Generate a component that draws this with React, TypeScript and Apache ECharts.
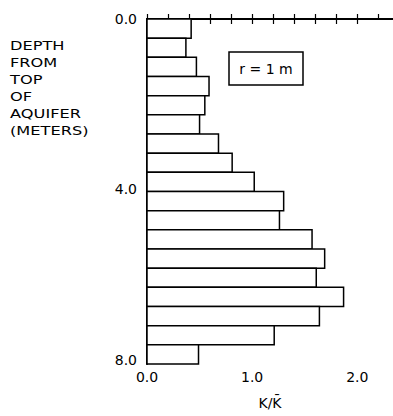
import React, { useEffect, useRef } from "react";
import * as echarts from "echarts";

// Depth intervals (m, top of aquifer = 0) and K/K̄ for each layer
const depthTop = [0, 0.45, 0.9, 1.35, 1.8, 2.25, 2.7, 3.15, 3.6, 4.05, 4.5, 4.95, 5.4, 5.85, 6.3, 6.75, 7.2, 7.65];
const depthBottom = [0.45, 0.9, 1.35, 1.8, 2.25, 2.7, 3.15, 3.6, 4.05, 4.5, 4.95, 5.4, 5.85, 6.3, 6.75, 7.2, 7.65, 8.1];
const kRatio = [0.42, 0.37, 0.47, 0.59, 0.55, 0.5, 0.68, 0.81, 1.02, 1.3, 1.26, 1.57, 1.69, 1.61, 1.87, 1.64, 1.21, 0.49];

const xTickValues = [0, 0.2, 0.4, 0.6, 0.8, 1.0, 1.2, 1.4, 1.6, 1.8, 2.0];
const yTicks = [0, 4, 8];

const yLabelLines = ["DEPTH", "FROM", "TOP", "OF", "AQUIFER", "(METERS)"];
const boxLabel = "r = 1 m";
const xName = "K/K\u0304";

const FONT = "DejaVu Sans";

export default function App() {
  const ref = useRef<HTMLDivElement>(null);
  useEffect(() => {
    if (!ref.current) return;
    const chart = echarts.init(ref.current, null, { renderer: "svg" });
    const data = depthTop.map((t, i) => [t, depthBottom[i], kRatio[i]]);
    const axisLine = { show: true, lineStyle: { color: "#000", width: 2 } };
    const tickStyle = { color: "#000", width: 1.2 };
    chart.setOption({
      animation: false,
      backgroundColor: "#fff",
      grid: { left: 147, top: 19, width: 246, height: 345, containLabel: false },
      xAxis: [
        {
          type: "value",
          min: 0,
          max: 2.34,
          interval: 0.2,
          position: "bottom",
          splitLine: { show: false },
          axisLine,
          axisTick: { show: true, inside: true, length: 5, lineStyle: tickStyle },
          axisLabel: {
            color: "#000",
            fontFamily: FONT,
            fontSize: 14,
            margin: 6,
            showMaxLabel: false,
            formatter: (v: number) => (Math.abs(v - Math.round(v)) < 1e-6 ? v.toFixed(1) : ""),
          },
          name: xName,
          nameLocation: "middle",
          nameGap: 32,
          nameTextStyle: { color: "#000", fontFamily: FONT, fontSize: 14 },
        },
        {
          type: "value",
          min: 0,
          max: 2.34,
          position: "top",
          splitLine: { show: false },
          axisLine,
          axisTick: { show: true, inside: true, length: 5, customValues: xTickValues, lineStyle: tickStyle },
          axisLabel: { show: false },
        },
      ],
      yAxis: {
        type: "value",
        inverse: true,
        min: 0,
        max: 8.1,
        axisLine,
        axisTick: { show: true, inside: true, length: 7, customValues: yTicks, lineStyle: tickStyle },
        splitLine: { show: false },
        axisLabel: {
          color: "#000",
          fontFamily: FONT,
          fontSize: 14,
          margin: 10,
          customValues: yTicks,
          formatter: (v: number) => v.toFixed(1),
        },
      },
      series: [
        {
          type: "custom",
          xAxisIndex: 0,
          yAxisIndex: 0,
          data,
          renderItem: (params: any, api: any) => {
            const top = api.value(0);
            const bottom = api.value(1);
            const k = api.value(2);
            const p0 = api.coord([0, top]);
            const p1 = api.coord([k, bottom]);
            return {
              type: "rect",
              shape: { x: p0[0], y: p0[1], width: p1[0] - p0[0], height: p1[1] - p0[1] },
              style: { fill: "#fff", stroke: "#000", lineWidth: 1.5 },
            };
          },
          z: 1,
        },
      ],
      graphic: [
        {
          type: "text",
          left: 10,
          top: 37,
          scaleX: 1.35,
          style: {
            text: yLabelLines.join("\n"),
            font: `12px "${FONT}"`,
            fill: "#000",
            lineHeight: 17,
          },
        },
        {
          type: "rect",
          shape: { x: 229, y: 52, width: 74, height: 33 },
          style: { fill: "#fff", stroke: "#000", lineWidth: 1.5 },
        },
        {
          type: "text",
          x: 266,
          y: 68.5,
          style: {
            text: boxLabel,
            font: `14px "${FONT}"`,
            fill: "#000",
            align: "center",
            verticalAlign: "middle",
          },
        },
      ],
    });
    return () => chart.dispose();
  }, []);
  return <div ref={ref} style={{ position: "fixed", left: 0, top: 0, width: 393, height: 416 }} />;
}
